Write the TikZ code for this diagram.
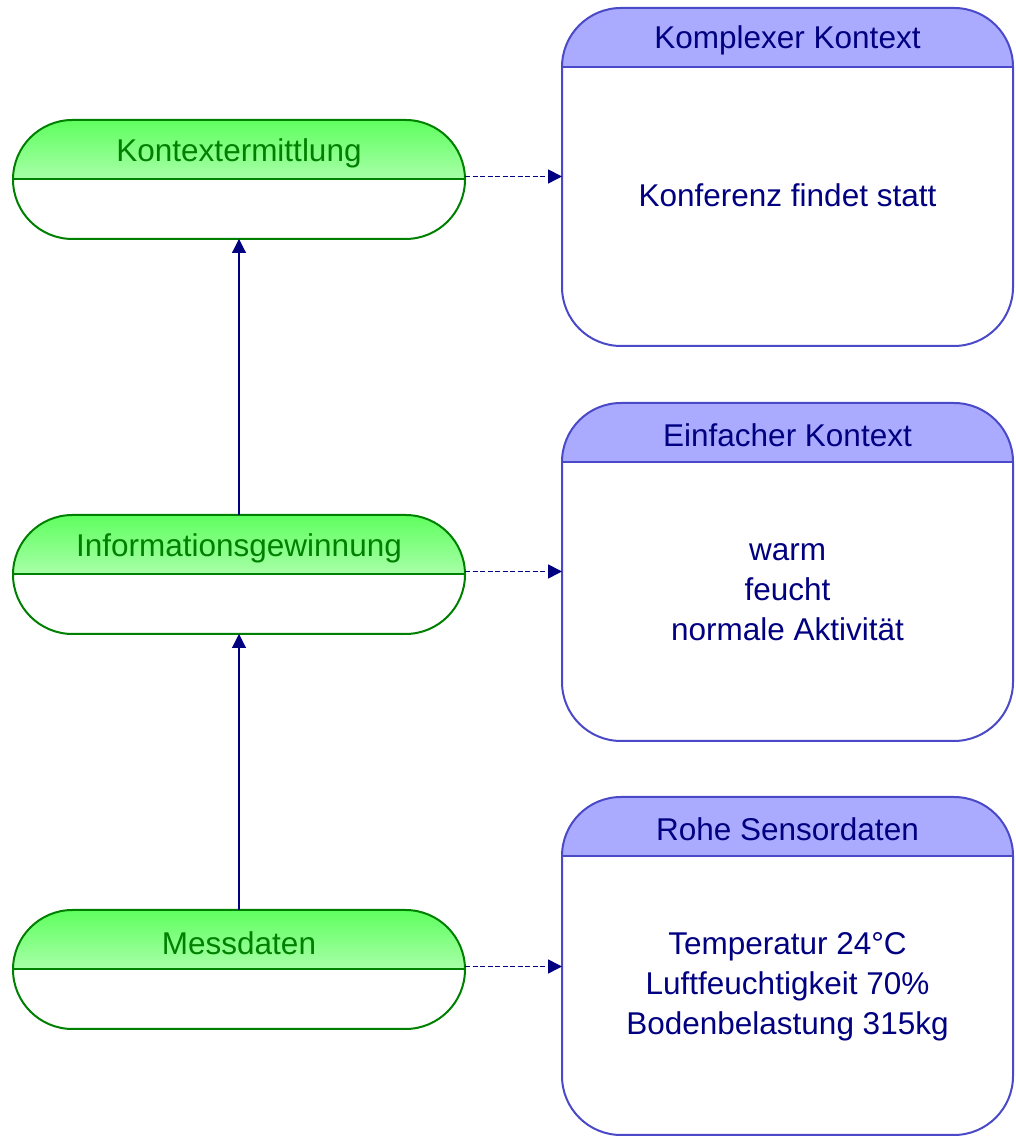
\documentclass[tikz,border=0pt]{standalone}
\usepackage{fontspec}
\setmainfont{Liberation Sans}
\usetikzlibrary{arrows.meta,calc}
\definecolor{gtop}{HTML}{5FFF5F}
\definecolor{gbot}{HTML}{A8FFA8}
\definecolor{gline}{HTML}{008000}
\definecolor{gtext}{HTML}{008000}
\definecolor{hfill}{HTML}{AAAAFF}
\definecolor{bline}{HTML}{4A4AC8}
\definecolor{navyc}{HTML}{000080}
\tikzset{
  pillline/.style={draw=gline,line width=2pt},
  boxline/.style={draw=bline,line width=2pt},
  anchorbox/.style={inner sep=0pt,outer sep=0pt,draw=none},
  bigtext/.style={font=\fontsize{31.5}{40}\selectfont,align=center,inner sep=0pt},
  flowarrow/.style={draw=navyc,line width=1.1pt,-{Triangle[length=14pt,width=14pt]}},
  ctxarrow/.style={draw=navyc,line width=1.6pt,dash pattern=on 5pt off 2.5pt,-{Triangle[length=14pt,width=14pt]}}
}
\newcommand\mkpill[3]{%
  \shade[top color=gtop,bottom color=gbot] (13,#2) arc[start angle=180,end angle=90,radius=59.5] -- (405.5,#2+59.5) arc[start angle=90,end angle=0,radius=59.5] -- cycle;
  \draw[pillline] (13,#2) arc[start angle=180,end angle=90,radius=59.5] -- (405.5,#2+59.5) arc[start angle=90,end angle=-90,radius=59.5] -- (72.5,#2-59.5) arc[start angle=270,end angle=180,radius=59.5] -- cycle;
  \draw[pillline] (13,#2) -- (465,#2);
  \node[anchorbox,minimum width=452pt,minimum height=119pt] (#1) at (239,#2) {};
  \node[bigtext,text=gtext] (#1label) at (239,#2+26) {#3};
}
\newcommand\mkbox[5]{%
  \fill[hfill] (562,#2-59) arc[start angle=180,end angle=90,radius=59] -- (954,#2) arc[start angle=90,end angle=0,radius=59] -- cycle;
  \draw[boxline] (562,#2-59) arc[start angle=180,end angle=90,radius=59] -- (954,#2) arc[start angle=90,end angle=0,radius=59] -- (1013,#2-279) arc[start angle=0,end angle=-90,radius=59] -- (621,#2-338) arc[start angle=270,end angle=180,radius=59] -- cycle;
  \draw[boxline] (562,#2-59) -- (1013,#2-59);
  \node[anchorbox,minimum width=451pt,minimum height=338pt] (#1) at (787.5,#2-169) {};
  \node[bigtext,text=navyc] (#1head) at (787.5,#2-32.5) {#3};
  \node[bigtext,text=navyc] (#1body) at (787.5,#2-#5) {#4};
}
\begin{document}
\begin{tikzpicture}[x=1pt,y=1pt]
\useasboundingbox (0,0) rectangle (1015,1137);
\mkpill{n1}{957.5}{Kontextermittlung}
\mkpill{n2}{562.5}{Informationsgewinnung}
\mkpill{n3}{167.5}{Messdaten}
\mkbox{b1}{1129}{Komplexer Kontext}{Konferenz findet statt}{187.5}
\mkbox{b2}{734}{Einfacher Kontext}{warm\\feucht\\normale Aktivität}{189.5}
\mkbox{b3}{340}{Rohe Sensordaten}{Temperatur 24°C\\Luftfeuchtigkeit 70\%\\Bodenbelastung 315kg}{189.5}
\draw[flowarrow] (n2.north) -- (n1.south);
\draw[flowarrow] (n3.north) -- (n2.south);
\draw[ctxarrow] ([yshift=3pt]n1.east) -- ([yshift=3pt]n1.east -| b1.west);
\draw[ctxarrow] ([yshift=3pt]n2.east) -- ([yshift=3pt]n2.east -| b2.west);
\draw[ctxarrow] ([yshift=3pt]n3.east) -- ([yshift=3pt]n3.east -| b3.west);
\end{tikzpicture}
\end{document}
